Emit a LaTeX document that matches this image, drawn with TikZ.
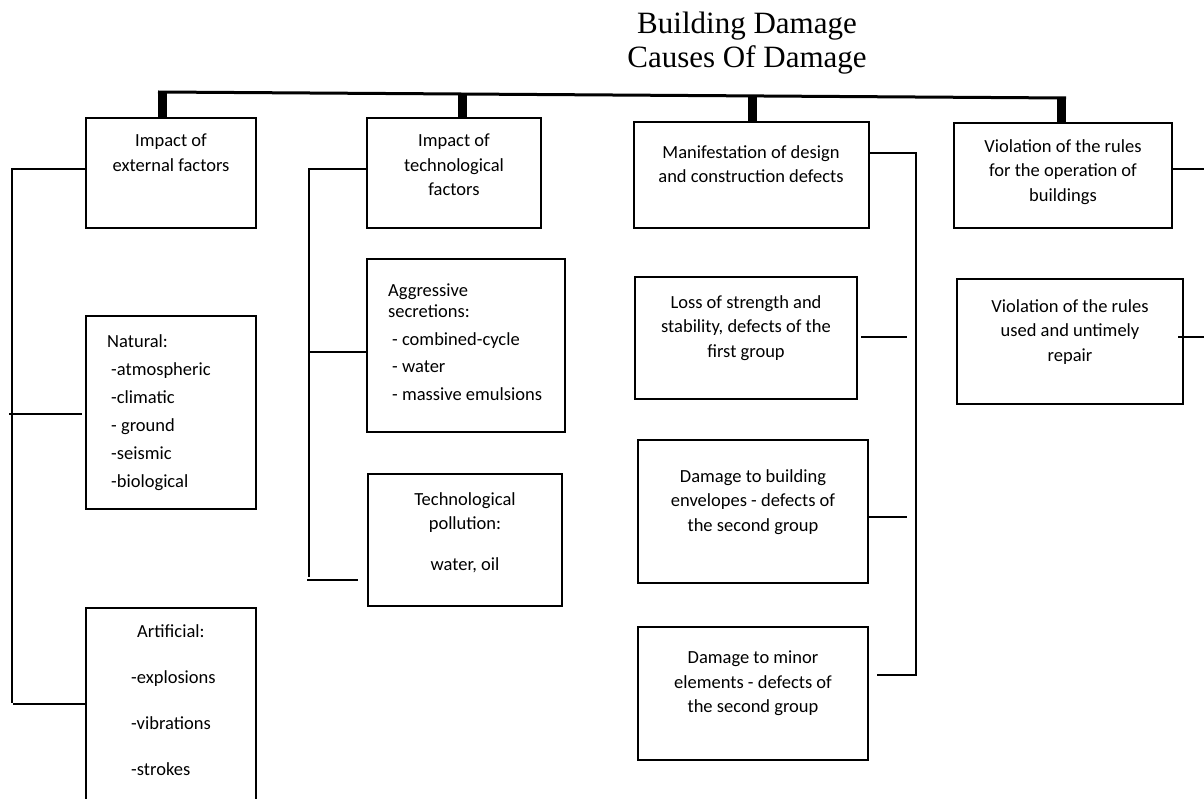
\documentclass[tikz,border=0pt]{standalone}
\usepackage{fontspec}
\setmainfont{Carlito}
\newfontfamily\titlefont{Liberation Serif}
\begin{document}
\begin{tikzpicture}[x=1pt,y=-1pt,
  box/.style={draw, line width=2.4pt, inner sep=0pt, outer sep=0pt, anchor=north west},
  txt/.style={inner sep=0pt, anchor=north, align=center, font=\fontsize{18.5}{24.5}\selectfont},
  ltxt/.style={inner sep=0pt, anchor=north west, align=left, font=\fontsize{18.5}{28}\selectfont},
  conn/.style={line width=2.4pt},
  stub/.style={line width=9pt},
  bar/.style={line width=3pt}]
\useasboundingbox (0,0) rectangle (1204,799);
\clip (0,0) rectangle (1204,799);

% title
\node[inner sep=0pt, anchor=north, align=center, font=\titlefont\fontsize{31}{34}\selectfont] (title) at (747,12) {Building Damage\\Causes Of Damage};

% boxes
\node[box, minimum width=170pt, minimum height=110pt] (b1) at (86,118) {};
\node[box, minimum width=174pt, minimum height=110pt] (b2) at (367,118) {};
\node[box, minimum width=235pt, minimum height=106pt] (b3) at (634,122) {};
\node[box, minimum width=218pt, minimum height=105pt] (b4) at (954,123) {};
\node[box, minimum width=226pt, minimum height=125pt] (b5) at (957,279) {};
\node[box, minimum width=170pt, minimum height=193pt] (nat) at (86,316) {};
\node[box, minimum width=170pt, minimum height=222pt] (art) at (86,608) {};
\node[box, minimum width=198pt, minimum height=173pt] (agg) at (367,259) {};
\node[box, minimum width=194pt, minimum height=132pt] (tp) at (368,474) {};
\node[box, minimum width=222pt, minimum height=122pt] (loss) at (635,277) {};
\node[box, minimum width=230pt, minimum height=143pt] (env) at (638,440) {};
\node[box, minimum width=230pt, minimum height=133pt] (minor) at (638,627) {};

% texts
\node[txt] (t1) at (171,134) {Impact of\\external factors};
\node[txt] (t2) at (454,134) {Impact of\\technological\\factors};
\node[txt] (t3) at (751,145) {Manifestation of design\\and construction defects};
\node[txt] (t4) at (1063,139) {Violation of the rules\\for the operation of\\buildings};
\node[txt] (t5) at (1070,299) {Violation of the rules\\used and untimely\\repair};
\node[ltxt] (tnat) at (107,334) {Natural:\\\hspace{4pt}-atmospheric\\\hspace{4pt}-climatic\\\hspace{4pt}- ground\\\hspace{4pt}-seismic\\\hspace{4pt}-biological};
\node[ltxt, font=\fontsize{18.5}{46}\selectfont] (tart) at (131,624) {\hspace{6pt}Artificial:\\-explosions\\-vibrations\\-strokes};
\node[ltxt, font=\fontsize{18.5}{21}\selectfont] (tagg) at (388,284) {Aggressive\\secretions:\\[7pt]\hspace{4pt}- combined-cycle\\[6pt]\hspace{4pt}- water\\[7pt]\hspace{4pt}- massive emulsions};
\node[txt] (ttp) at (465,492) {Technological\\pollution:\\[16pt]water, oil};
\node[txt] (tloss) at (746,295) {Loss of strength and\\stability, defects of the\\first group};
\node[txt] (tenv) at (753,469) {Damage to building\\envelopes - defects of\\the second group};
\node[txt] (tminor) at (753,651) {Damage to minor\\elements - defects of\\the second group};

% top bar and stubs
\coordinate (barL) at (158,92);
\coordinate (barR) at (1066,98);
\draw[bar] (barL) -- (barR);
\coordinate (s1) at (162.5,92);
\coordinate (s2) at (462.5,94);
\coordinate (s3) at (752.5,96);
\coordinate (s4) at (1061.5,98);
\draw[stub] (s1) -- (s1 |- b1.north);
\draw[stub] (s2) -- (s2 |- b2.north);
\draw[stub] (s3) -- (s3 |- b3.north);
\draw[stub] (s4) -- (s4 |- b4.north);

% left bracket (external factors)
\coordinate (c1) at (12,169);
\coordinate (c1b) at (12,703);
\coordinate (cN) at (9,414);
\coordinate (cA) at (13,704);
\draw[conn] (b1.west |- c1) -- (c1) -- (c1b);
\draw[conn] (cN) -- ([xshift=-4pt]nat.west |- cN);
\draw[conn] (cA) -- (art.west |- cA);

% technological factors bracket
\coordinate (c2) at (309,169);
\coordinate (c2b) at (309,577);
\coordinate (cG) at (309,352);
\coordinate (cT) at (307,580);
\draw[conn] (b2.west |- c2) -- (c2) -- (c2b);
\draw[conn] (cG) -- (agg.west |- cG);
\draw[conn] (cT) -- ([xshift=-10pt]tp.west |- cT);

% design defects bracket
\coordinate (c3) at (916,153);
\coordinate (c3b) at (916,676);
\coordinate (cL) at (907,337);
\coordinate (cE) at (907,517);
\coordinate (cM) at (915,675);
\draw[conn] (b3.east |- c3) -- (c3) -- (c3b);
\draw[conn] ([xshift=4pt]loss.east |- cL) -- (cL);
\draw[conn] (env.east |- cE) -- (cE);
\draw[conn] ([xshift=9pt]minor.east |- cM) -- (cM);

% operation rules
\coordinate (c4) at (1204,169);
\coordinate (c5) at (1204,337);
\draw[conn] (b4.east |- c4) -- (c4);
\draw[conn] ([xshift=-5pt]b5.east |- c5) -- (c5);
\end{tikzpicture}
\end{document}
